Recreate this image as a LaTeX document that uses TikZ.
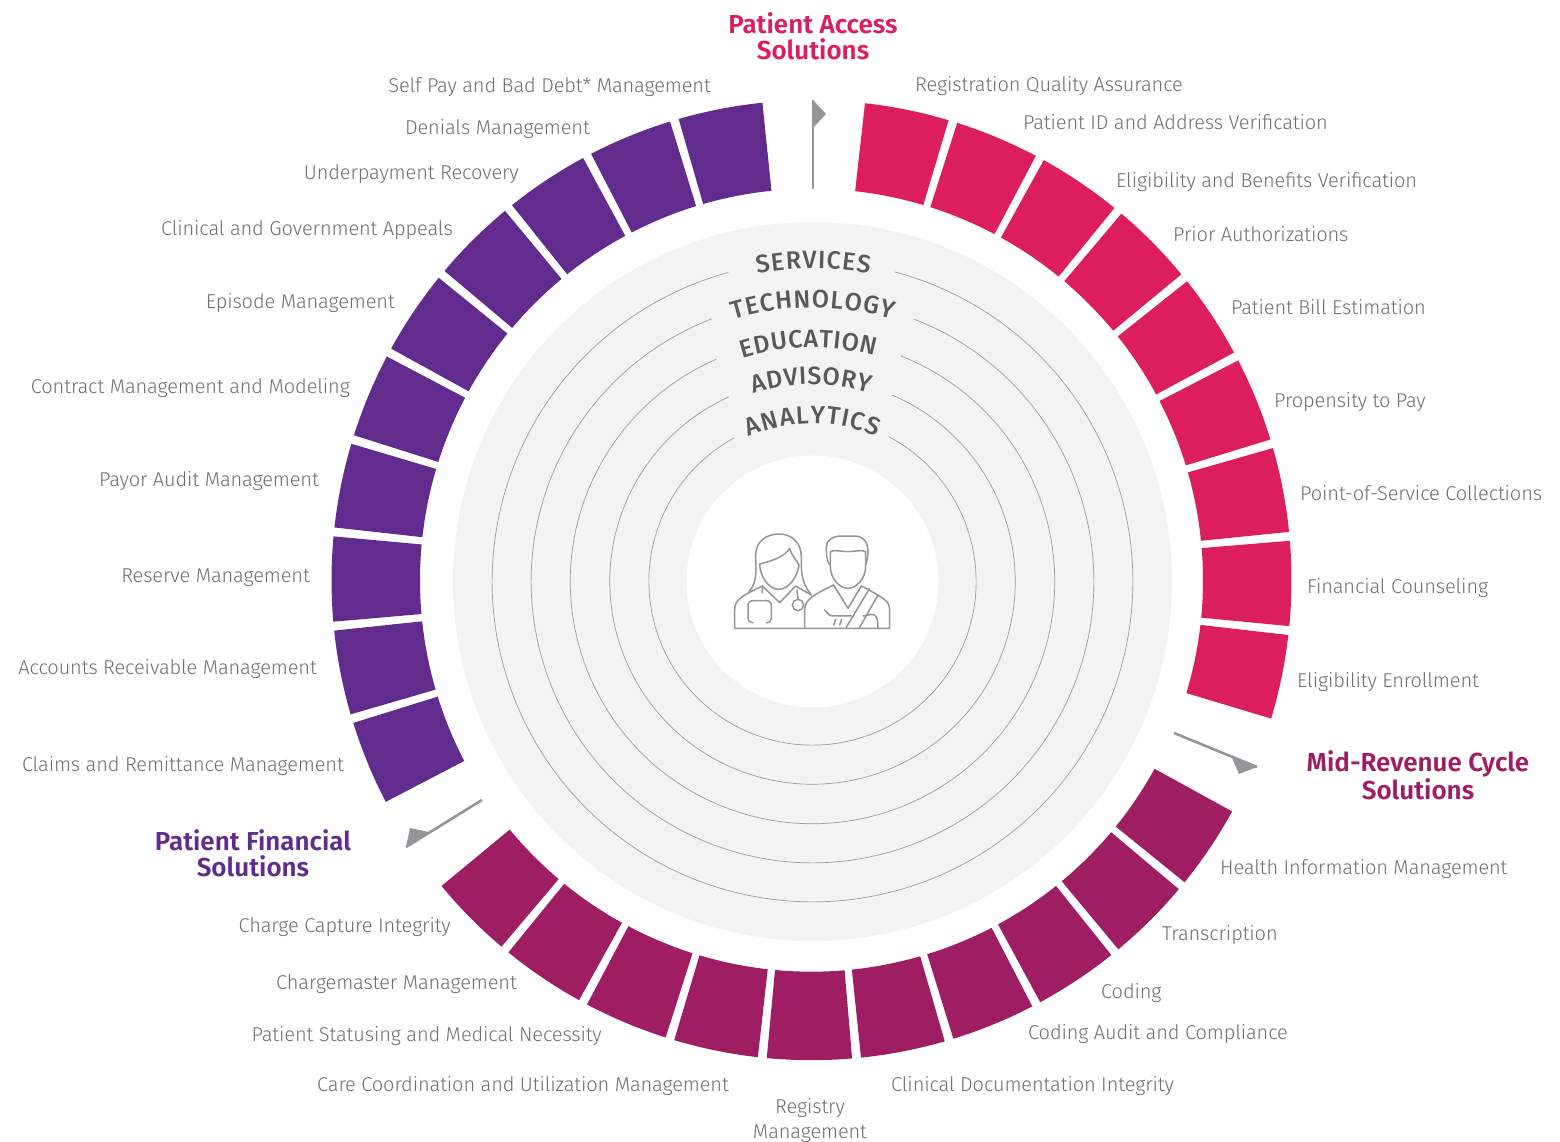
\documentclass[tikz,border=0pt]{standalone}
\usepackage{fontspec}
\setmainfont[LetterSpace=-0.6]{Fira Sans Light}
\newfontfamily\titlefont{Fira Sans SemiBold}
\newfontfamily\ringfont{Fira Sans Medium}
\usetikzlibrary{decorations.text}

\definecolor{accesscol}{HTML}{DC1F5C}
\definecolor{midcol}{HTML}{9E1D63}
\definecolor{financecol}{HTML}{622C8E}
\definecolor{pointercol}{HTML}{939598}
\definecolor{disccol}{HTML}{F2F4F3}
\definecolor{labelcol}{HTML}{6D6E71}
\definecolor{ringcol}{HTML}{9A9DA0}
\definecolor{ringtext}{HTML}{58595B}

\begin{document}
\begin{tikzpicture}[x=1pt,y=-1pt]

\def\rout{480}
\def\rin{391.5}
\def\segw{10.2}
\def\segp{11.27}

\tikzstyle{rlabel}=[anchor=west,text=labelcol,font=\fontsize{20}{25}\selectfont,inner sep=0pt,text height=17pt,text depth=3pt]
\tikzstyle{llabel}=[rlabel,anchor=east]
\tikzstyle{title}=[align=center,inner sep=0pt,font=\titlefont\fontsize{26}{26}\selectfont]
\tikzstyle{pointer}=[draw=pointercol,line width=2.6pt]
\tikzstyle{pointerhead}=[fill=pointercol]
\tikzstyle{ring}=[draw=ringcol,line width=0.7pt]
\tikzstyle{icon}=[draw=pointercol,line width=1.5pt,line cap=round,line join=round]

\useasboundingbox (0,0) rectangle (1560,1142);

%segments
\begin{scope}[shift={(811.5,580.2)},y=1pt]
\foreach \start/\num/\col in {6.4/9/accesscol,118.8/10/midcol,242.5/10/financecol}{
  \foreach \i in {1,...,\num}{
    \pgfmathsetmacro\aone{90-\start-(\i-1)*\segp}
    \pgfmathsetmacro\atwo{\aone-\segw}
    \fill[\col] (\aone:\rout pt) arc[start angle=\aone,end angle=\atwo,radius=\rout pt]
      -- (\atwo:\rin pt) arc[start angle=\atwo,end angle=\aone,radius=\rin pt] -- cycle;
  }
}
\end{scope}

%disc and rings
\begin{scope}[shift={(812.5,581.5)},y=1pt]
\fill[disccol] (0,0) circle[radius=359.5pt];
\fill[white] (0,0) circle[radius=126pt];

\draw[ring] (75.1:320.3pt) arc[start angle=75.1,end angle=-254.75,radius=320.3pt];
\draw[ring] (68.9:281.3pt) arc[start angle=68.9,end angle=-249,radius=281.3pt];
\draw[ring] (68.6:242.2pt) arc[start angle=68.6,end angle=-246.6,radius=242.2pt];
\draw[ring] (66.9:202.7pt) arc[start angle=66.9,end angle=-245.6,radius=202.7pt];
\draw[ring] (62.1:163.6pt) arc[start angle=62.1,end angle=-241.3,radius=163.6pt];

%ring names
\tikzstyle{ringname}=[decorate,decoration={text along path,text align={fit to path},raise=0pt}]
\def\rnfont{|\ringfont\fontsize{25}{25}\selectfont\color{ringtext}|}
\path[ringname,decoration={text={\rnfont SERVICES}}] (100.2:313pt) arc[start angle=100.2,end angle=79.5,radius=313pt];
\path[ringname,decoration={text={\rnfont TECHNOLOGY}}] (106.8:274pt) arc[start angle=106.8,end angle=73.1,radius=274pt];
\path[ringname,decoration={text={\rnfont EDUCATION}}] (107.5:234pt) arc[start angle=107.5,end angle=74.6,radius=234pt];
\path[ringname,decoration={text={\rnfont ADVISORY}}] (107.5:197pt) arc[start angle=107.5,end angle=73.2,radius=197pt];
\path[ringname,decoration={text={\rnfont ANALYTICS}}] (113.8:158pt) arc[start angle=113.8,end angle=66.2,radius=158pt];
\end{scope}

%pointers
\coordinate (accstart) at (813,189);
\coordinate (acctip) at (813,100);
\coordinate (midstart) at (1174,733);
\coordinate (midtip) at (1257,767);
\coordinate (finstart) at (482,800);
\coordinate (fintip) at (406,847);
\draw[pointer] (accstart) -- (acctip);
\fill[pointerhead] (acctip) -- (826,114) -- (813,128) -- cycle;
\draw[pointer] (midstart) -- (midtip);
\fill[pointerhead] (midtip) -- (1232,758) -- (1239,774) -- cycle;
\draw[pointer] (finstart) -- (fintip);
\fill[pointerhead] (fintip) -- (410,828) -- (429,832) -- cycle;

%titles
\node[title,text=accesscol] (acctitle) at (813,36) {Patient Access\\Solutions};
\node[title,text=midcol] (midtitle) at (1418,775) {Mid-Revenue Cycle\\Solutions};
\node[title,text=financecol] (fintitle) at (253,853) {Patient Financial\\Solutions};

%patient access
\node[rlabel] (pa1) at (915,85) {Registration Quality Assurance};
\node[rlabel] (pa2) at (1023,123) {Patient ID and Address Verification};
\node[rlabel] (pa3) at (1116,181) {Eligibility and Benefits Verification};
\node[rlabel] (pa4) at (1173,234) {Prior Authorizations};
\node[rlabel] (pa5) at (1231,307) {Patient Bill Estimation};
\node[rlabel] (pa6) at (1274,400) {Propensity to Pay};
\node[rlabel] (pa7) at (1300,493) {Point-of-Service Collections};
\node[rlabel] (pa8) at (1307,586) {Financial Counseling};
\node[rlabel] (pa9) at (1297,680) {Eligibility Enrollment};

%mid-revenue
\node[rlabel] (mr1) at (1220,867) {Health Information Management};
\node[rlabel] (mr2) at (1162,933) {Transcription};
\node[rlabel] (mr3) at (1101,991) {Coding};
\node[rlabel] (mr4) at (1028,1032) {Coding Audit and Compliance};
\node[rlabel] (mr5) at (891,1084) {Clinical Documentation Integrity};
\node[rlabel,anchor=center,align=center,text height=,text depth=] (mr6) at (810,1121) {Registry\\Management};
\node[llabel] (mr7) at (729,1084) {Care Coordination and Utilization Management};
\node[llabel] (mr8) at (602,1034) {Patient Statusing and Medical Necessity};
\node[llabel] (mr9) at (517,982) {Chargemaster Management};
\node[llabel] (mr10) at (451,925) {Charge Capture Integrity};

%patient financial
\node[llabel] (pf1) at (344,764) {Claims and Remittance Management};
\node[llabel] (pf2) at (317,667) {Accounts Receivable Management};
\node[llabel] (pf3) at (310,575) {Reserve Management};
\node[llabel] (pf4) at (319,479) {Payor Audit Management};
\node[llabel] (pf5) at (350,386) {Contract Management and Modeling};
\node[llabel] (pf6) at (395,301) {Episode Management};
\node[llabel] (pf7) at (453,228) {Clinical and Government Appeals};
\node[llabel] (pf8) at (519,173) {Underpayment Recovery};
\node[llabel] (pf9) at (590,128) {Denials Management};
\node[llabel] (pf10) at (711,86) {Self Pay and Bad Debt* Management};

%people
\begin{scope}[shift={(713,510)},x=0.3333pt,y=-0.3333pt]
\draw[icon] (65,355) -- (530,355) -- (530,295) .. controls (530,275) and (510,262) .. (445,228);
\draw[icon] (108,245) .. controls (135,215) and (128,175) .. (128,135) .. controls (128,95) and (160,72) .. (198,72)
  .. controls (238,72) and (265,100) .. (265,140) .. controls (265,175) and (262,215) .. (292,250);
\draw[icon] (140,162) .. controls (180,152) and (215,140) .. (230,115) .. controls (235,135) and (250,150) .. (258,165)
  .. controls (255,195) and (230,238) .. (197,238) .. controls (165,238) and (140,195) .. (140,162);
\draw[icon] (148,228) -- (200,278) -- (248,228) -- (295,255);
\draw[icon] (65,355) -- (65,300) .. controls (65,270) and (85,258) .. (148,228) -- (148,248);
\draw[icon] (120,338) .. controls (110,338) and (105,332) .. (105,325) -- (105,288) .. controls (105,278) and (110,272) .. (120,272)
  -- (160,272) .. controls (170,272) and (175,278) .. (175,288) -- (175,325) .. controls (175,332) and (170,338) .. (160,338);
\draw[icon] (255,285) circle[radius=17] (255,268) -- (252,240);
\draw[icon] (275,355) -- (275,300) .. controls (275,270) and (300,255) .. (362,225);
\draw[icon] (350,165) .. controls (340,150) and (340,130) .. (340,110) .. controls (340,90) and (360,78) .. (385,78) -- (425,78)
  .. controls (450,78) and (465,95) .. (465,125) .. controls (465,140) and (462,150) .. (458,165);
\draw[icon] (352,125) .. controls (365,118) and (385,125) .. (405,125) .. controls (425,125) and (445,118) .. (458,125) -- (458,170)
  .. controls (458,205) and (430,235) .. (405,235) .. controls (380,235) and (352,205) .. (352,170) -- cycle;
\draw[icon] (362,225) -- (405,295) -- (445,228);
\draw[icon] (400,352) -- (470,235) (440,352) -- (495,255);
\draw[icon] (335,300) .. controls (345,305) and (345,318) .. (358,318) -- (415,318);
\draw[icon] (362,345) -- (368,328) (380,345) -- (386,328);
\draw[icon] (450,318) -- (475,313) .. controls (490,313) and (495,325) .. (495,355);
\end{scope}

\end{tikzpicture}
\end{document}
